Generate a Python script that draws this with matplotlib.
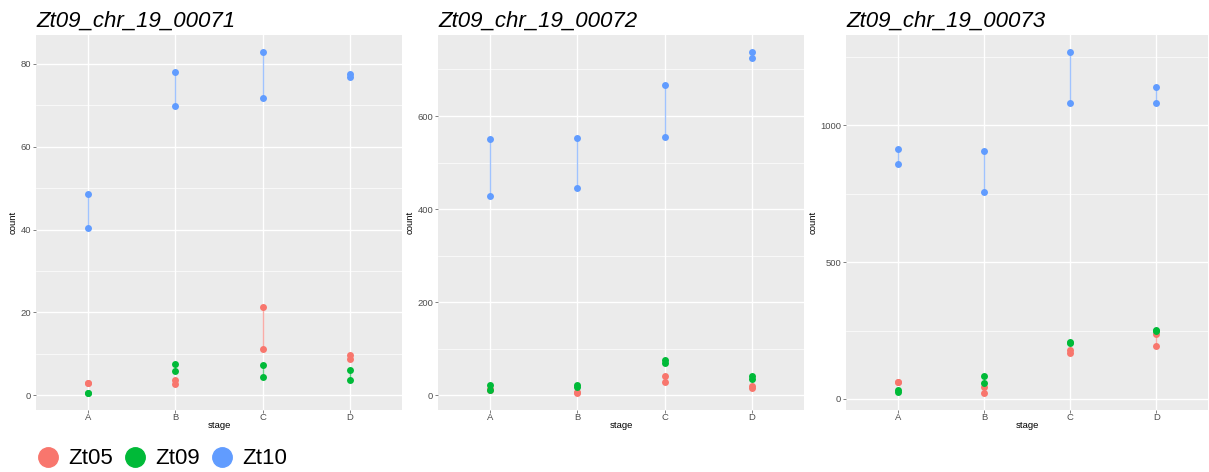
import numpy as np
import matplotlib.pyplot as plt
from matplotlib.lines import Line2D
from matplotlib.ticker import MultipleLocator

plt.rcParams['font.family'] = ['Liberation Sans', 'DejaVu Sans']

stages = ["A", "B", "C", "D"]
series = ["Zt05", "Zt09", "Zt10"]
colors = {"Zt05": "#F8766D", "Zt09": "#00BA38", "Zt10": "#619CFF"}

titles = ["Zt09_chr_19_00071", "Zt09_chr_19_00072", "Zt09_chr_19_00073"]

# two replicate counts per stage (A, B, C, D) for each series
g71_zt05 = [[3.1, 3.1], [3.8, 2.8], [21.4, 11.3], [9.7, 8.7]]
g71_zt09 = [[0.6, 0.6], [7.6, 5.8], [7.3, 4.4], [6.2, 3.7]]
g71_zt10 = [[48.5, 40.3], [77.9, 69.7], [82.8, 71.6], [77.4, 76.9]]

g72_zt05 = [[14, 12], [6, 5], [42, 28.6], [20, 15.7]]
g72_zt09 = [[22, 12], [22, 18], [75, 70], [41.5, 34.4]]
g72_zt10 = [[551, 427.5], [553, 444.7], [666.6, 554.8], [737.5, 723.9]]

g73_zt05 = [[62, 62], [42, 22], [180, 167], [237, 195]]
g73_zt09 = [[31, 24], [85, 57], [208, 205], [251, 248]]
g73_zt10 = [[913, 857], [905, 757], [1268, 1082], [1141, 1082]]

genes = [
    {"Zt05": g71_zt05, "Zt09": g71_zt09, "Zt10": g71_zt10},
    {"Zt05": g72_zt05, "Zt09": g72_zt09, "Zt10": g72_zt10},
    {"Zt05": g73_zt05, "Zt09": g73_zt09, "Zt10": g73_zt10},
]
major_steps = [20, 200, 500]

fig = plt.figure(figsize=(12.09, 4.72), dpi=100)
W, H = 1209, 472
panels = [(36, 402), (438, 804), (846, 1208)]
top, bottom = 35, 410

for i, gene in enumerate(genes):
    x0, x1 = panels[i]
    ax = fig.add_axes([x0 / W, (H - bottom) / H, (x1 - x0) / W, (bottom - top) / H])
    ax.set_facecolor("#EBEBEB")
    allv = []
    for s in series:
        vals = gene[s]
        for j, pair in enumerate(vals):
            ax.plot([j, j], pair, color=colors[s], alpha=0.6, lw=1.0, zorder=2)
        for j, pair in enumerate(vals):
            ax.scatter([j, j], pair, color=colors[s], s=25, lw=0, zorder=3)
            allv += pair
    lo, hi = min(allv), max(allv)
    pad = (hi - lo) * 0.05
    ax.set_ylim(lo - pad, hi + pad)
    ax.set_xlim(-0.6, 3.6)
    ax.set_xticks(range(4))
    ax.set_xticklabels(stages)
    ax.yaxis.set_major_locator(MultipleLocator(major_steps[i]))
    ax.yaxis.set_minor_locator(MultipleLocator(major_steps[i] / 2))
    ax.grid(True, which="major", color="white", lw=1.0, zorder=0)
    ax.grid(True, which="minor", axis="y", color="white", lw=0.5, zorder=0)
    ax.set_axisbelow(True)
    for sp in ax.spines.values():
        sp.set_visible(False)
    ax.tick_params(which="major", length=2, width=0.5, color="#4D4D4D",
                   labelsize=6.8, labelcolor="#4D4D4D", pad=1.5)
    ax.tick_params(axis="x", pad=0.5)
    ax.tick_params(which="minor", length=0)
    ax.set_xlabel("stage", fontsize=6.8, labelpad=-1)
    ax.set_ylabel("count", fontsize=6.8, labelpad=2)
    ax.set_title(titles[i], loc="left", fontsize=16, style="italic", pad=6)

handles = [Line2D([], [], marker="o", ls="", color=colors[s], markersize=14)
           for s in series]
fig.legend(handles, series, loc="center left", bbox_to_anchor=(26 / W, 1 - 459 / H),
           ncol=3, frameon=False, fontsize=16, handletextpad=0.3,
           columnspacing=0.4, borderaxespad=0, handlelength=1.2)

fig.savefig("out.png", dpi=100)
